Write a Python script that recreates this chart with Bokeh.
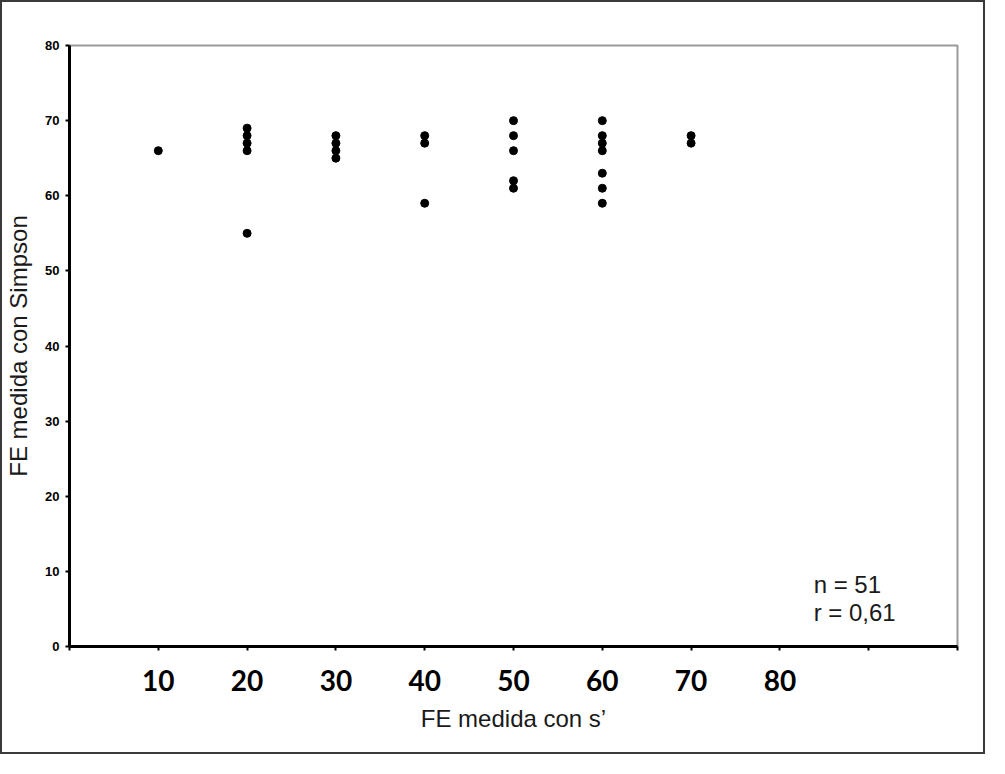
from bokeh.plotting import figure
from bokeh.models import Range1d, FixedTicker, Label
from bokeh.embed import file_html
from bokeh.resources import INLINE

# Data (FE medida con s' vs FE medida con Simpson)
fe_s = [10,
        20, 20, 20, 20, 20,
        30, 30, 30, 30,
        40, 40, 40,
        50, 50, 50, 50, 50,
        60, 60, 60, 60, 60, 60, 60,
        70, 70]
fe_simpson = [66,
              69, 68, 67, 66, 55,
              68, 67, 66, 65,
              68, 67, 59,
              70, 68, 66, 62, 61,
              70, 68, 67, 66, 63, 61, 59,
              68, 67]
x_ticks = [0, 10, 20, 30, 40, 50, 60, 70, 80, 90, 100]
x_tick_labels = ["", "10", "20", "30", "40", "50", "60", "70", "80", "", ""]
y_ticks = [0, 10, 20, 30, 40, 50, 60, 70, 80]
annotations = ["n = 51", "r = 0,61"]

W, H = 985, 754
p = figure(width=W, height=H, output_backend="svg", toolbar_location=None,
           x_range=Range1d(0, 100), y_range=Range1d(0, 80),
           min_border_left=65, min_border_top=43,
           min_border_right=30, min_border_bottom=110)
p.styles = {"border": "2px solid #3a3a3a"}

p.background_fill_color = "white"
p.border_fill_color = "white"
p.outline_line_color = "#9a9a9a"
p.outline_line_width = 2
p.xgrid.visible = False
p.ygrid.visible = False

p.scatter(fe_s, fe_simpson, size=8, color="black")

# x axis
xa = p.xaxis[0]
xa.ticker = FixedTicker(ticks=x_ticks)
xa.major_label_overrides = {t: l for t, l in zip(x_ticks, x_tick_labels)}
xa.axis_line_color = "black"
xa.axis_line_width = 3
xa.major_tick_line_color = "black"
xa.major_tick_line_width = 2
xa.major_tick_out = 4
xa.major_tick_in = 0
xa.minor_tick_line_color = None
xa.major_label_text_font = "Lato"
xa.major_label_text_font_style = "bold"
xa.major_label_text_font_size = "28px"
xa.major_label_text_color = "black"
xa.major_label_standoff = 19
xa.axis_label = "FE medida con s\u2019"
xa.axis_label_text_font = "Liberation Sans"
xa.axis_label_text_font_style = "normal"
xa.axis_label_text_font_size = "24px"
xa.axis_label_text_color = "#1a1a1a"
xa.axis_label_standoff = 11

# y axis
ya = p.yaxis[0]
ya.ticker = FixedTicker(ticks=y_ticks)
ya.axis_line_color = "black"
ya.axis_line_width = 3
ya.major_tick_line_color = "black"
ya.major_tick_line_width = 2
ya.major_tick_out = 4
ya.major_tick_in = 0
ya.minor_tick_line_color = None
ya.major_label_text_font = "Liberation Sans"
ya.major_label_text_font_style = "bold"
ya.major_label_text_font_size = "13px"
ya.major_label_text_color = "black"
ya.major_label_standoff = 6
ya.axis_label = "FE medida con Simpson"
ya.axis_label_text_font = "Liberation Sans"
ya.axis_label_text_font_style = "normal"
ya.axis_label_text_font_size = "24px"
ya.axis_label_text_color = "#1a1a1a"
ya.axis_label_standoff = 10

for txt, yy in zip(annotations, [8.2, 4.56]):
    p.add_layout(Label(x=83.8, y=yy, text=txt, text_font="Liberation Sans",
                       text_font_size="24px", text_color="#1a1a1a",
                       text_baseline="alphabetic", text_align="left"))

open("out.html", "w").write(file_html(p, INLINE))
